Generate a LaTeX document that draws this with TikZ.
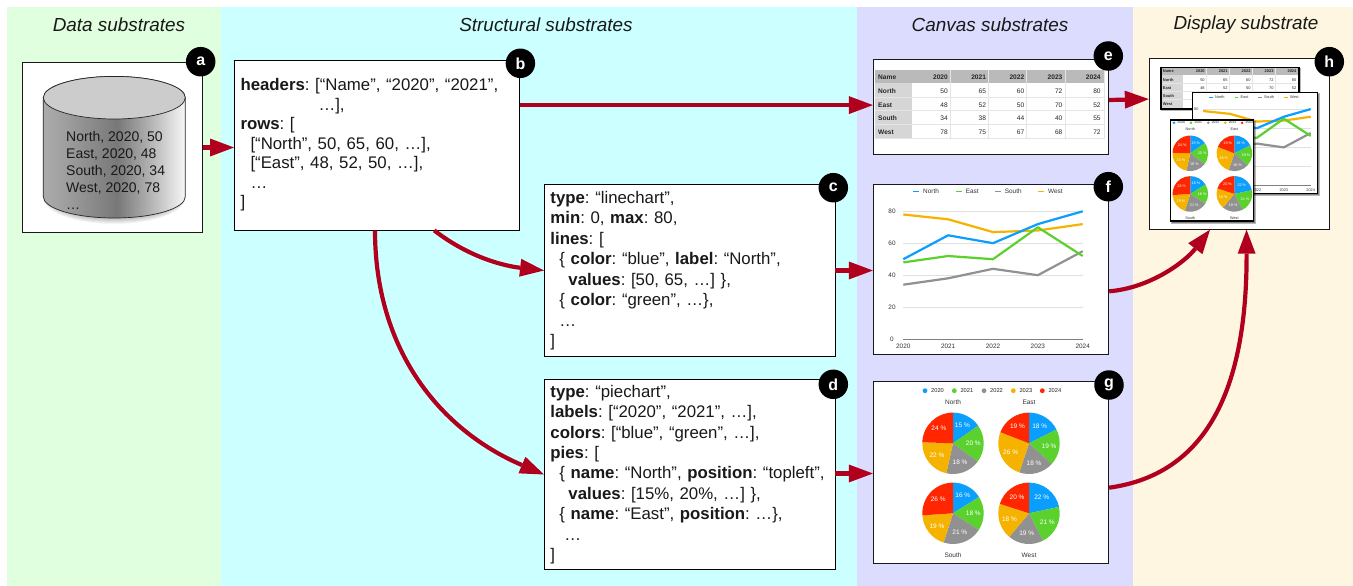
\documentclass[tikz,border=0pt]{standalone}
\usepackage{fontspec}
\setmainfont{Liberation Sans}
\frenchspacing
\usetikzlibrary{arrows.meta,calc,shadings}
\definecolor{bgdata}{HTML}{E0FFDF}
\definecolor{bgstruct}{HTML}{CCFFFF}
\definecolor{bgcanvas}{HTML}{DCDCFF}
\definecolor{bgdisp}{HTML}{FEF6E0}
\definecolor{arrowred}{HTML}{B0001E}
\definecolor{cblue}{HTML}{0A9EFF}
\definecolor{cgreen}{HTML}{5BD12D}
\definecolor{cgrey}{HTML}{919191}
\definecolor{corange}{HTML}{F5B300}
\definecolor{cred}{HTML}{FF2600}
\pgfdeclarehorizontalshading{cylshade}{100bp}{color(0bp)=(black!33);color(25bp)=(black!33);color(33bp)=(black!38);color(51bp)=(black!53);color(62.5bp)=(black!30);color(75bp)=(black!3);color(100bp)=(black!3)}
\tikzset{
  x=1pt,y=-1pt,
  bandtitle/.style={font=\fontsize{18.9}{22}\selectfont\itshape,inner sep=0pt,anchor=center,text=black!90},
  codebox/.style={draw=black,line width=.9pt,fill=white,align=left,inner sep=6pt,font=\fontsize{16.8}{#1}\selectfont,text=black!90},
  plainbox/.style={draw=black!90,line width=.9pt,fill=white},
  badge/.style={circle,fill=black,text=white,minimum size=29.5pt,inner sep=0pt,font=\fontsize{16}{16}\selectfont\bfseries},
  flow/.style={draw=arrowred,line width=4.2pt,-{Triangle[length=24pt,width=18pt,fill=arrowred,line width=0pt]}},
  tcell/.style={font=\fontsize{6.6}{8}\selectfont,text=black!85,inner sep=0pt,anchor=base east},
  thead/.style={font=\fontsize{6.6}{8}\selectfont\bfseries,text=black!85,inner sep=0pt,anchor=base east},
  trow/.style={font=\fontsize{6.6}{8}\selectfont\bfseries,text=black!85,inner sep=0pt,anchor=base west},
  chartlab/.style={font=\fontsize{6.4}{8}\selectfont,text=black!80,inner sep=0pt},
  pielab/.style={font=\fontsize{6.5}{8}\selectfont,text=white,inner sep=0pt},
  pietitle/.style={font=\fontsize{6.5}{8}\selectfont,text=black!80,inner sep=0pt},
  legendtxt/.style={font=\fontsize{5.7}{6}\selectfont,text=black!85,inner sep=0pt,anchor=west},
  serie/.style={line width=2.2pt,line join=round,draw=#1},
  grid line/.style={draw=black!12,line width=.7pt},
  thumb/.style={fill=white,draw=black,line width=1.1pt},
  thumbshadow/.style={fill=black,opacity=.28},
}
% table, in the coordinates of box e
\newcommand{\drawtable}{%
  \fill[black!27] (875,70) rectangle (1105,83.3);
  \fill[black!16] (875,83.3) rectangle (912.3,138.7);
  \foreach \gy in {97.3,110.7,124,138.7}{\draw[black!10,line width=.6pt] (875,\gy) -- (1105,\gy);}
  \foreach \gx in {950.7,988.7,1026.7,1065.3,1104}{\draw[black!10,line width=.6pt] (\gx,70) -- (\gx,138.7);}
  \node[trow] (th0) at (878,79.3) {Name};
  \foreach \lab [count=\i from 0] in {2020,2021,2022,2023,2024}{
    \pgfmathsetmacro\cx{948+38.2*\i}
    \node[thead] (th\i x) at (\cx,79.3) {\lab};}
  \foreach \nm/\yy/\va/\vb/\vc/\vd/\ve in {North/93.2/50/65/60/72/80,East/107/48/52/50/70/52,South/120.5/34/38/44/40/55,West/134/78/75/67/68/72}{
    \node[trow] (r\nm) at (878,\yy) {\nm};
    \node[tcell] (a\nm) at (948,\yy) {\va};
    \node[tcell] (b\nm) at (986.2,\yy) {\vb};
    \node[tcell] (c\nm) at (1024.4,\yy) {\vc};
    \node[tcell] (d\nm) at (1062.6,\yy) {\vd};
    \node[tcell] (e\nm) at (1100.8,\yy) {\ve};}
}
% line chart, in the coordinates of box f
\newcommand{\drawlinechart}{%
  \foreach \gy/\lab in {211.3/80,243.2/60,275.2/40,307.1/20}{
    \draw[grid line] (903.3,\gy) -- (1082.7,\gy);
    \node[chartlab] (yt\lab) at (892,\gy) {\lab};}
  \draw[black!50,line width=1pt] (903.3,339) -- (1082.7,339);
  \node[chartlab] (yt0) at (892,339) {0};
  \foreach \lab/\gx in {2020/903.3,2021/948.15,2022/993,2023/1037.85,2024/1082.7}{
    \node[chartlab] (xt\lab) at (\gx,346.3) {\lab};}
  \draw[serie=cgrey] (903.3,284.7) -- (948.15,278.3) -- (993,268.8) -- (1037.85,275.2) -- (1082.7,251.2);
  \draw[serie=corange] (903.3,214.5) -- (948.15,219.3) -- (993,232.1) -- (1037.85,230.5) -- (1082.7,224.1);
  \draw[serie=cblue] (903.3,259.2) -- (948.15,235.3) -- (993,243.2) -- (1037.85,224.1) -- (1082.7,211.3);
  \draw[serie=cgreen] (903.3,262.4) -- (948.15,256) -- (993,259.2) -- (1037.85,227.3) -- (1082.7,256);
  \foreach \lx/\tx/\c/\lab in {913.3/923/cblue/North,955.7/965.7/cgreen/East,995/1004.7/cgrey/South,1038.3/1048/corange/West}{
    \draw[\c,line width=1.2pt] (\lx,191.7) -- (\lx+6,191.7);
    \node[chartlab,anchor=west] (lg\lab) at (\tx,191.7) {\lab};}
}
% pie charts, in the coordinates of box g
\newcommand{\onepie}[4]{%
  \foreach \v/\l/\c [remember=\nx as \st (initially 90), evaluate=\v as \nx using \st-\v/#3*360] in {#4}{
    \fill[\c] (#1,#2) -- ++(\st:30.7pt) arc[start angle=\st,end angle=\nx,radius=30.7pt] -- cycle;
    \pgfmathsetmacro\mdd{(\st+\nx)/2}
    \path (#1,#2) ++(\mdd:20.3pt) node[pielab] (pl\l) {\l{} \%};
  }%
}
\newcommand{\drawpies}{%
  \foreach \dx/\tx/\c/\lab in {925/931/cblue/2020,954.3/960.3/cgreen/2021,984/990/cgrey/2022,1013.3/1019.3/corange/2023,1042.3/1048.3/cred/2024}{
    \fill[\c] (\dx,390.7) circle[radius=2.4pt];
    \node[legendtxt] (pg\lab) at (\tx,390.7) {\lab};}
  \node[pietitle] (ptn) at (953,402.3) {North};
  \node[pietitle] (pte) at (1029,402.3) {East};
  \node[pietitle] (pts) at (953,555.2) {South};
  \node[pietitle] (ptw) at (1029,555.2) {West};
  \onepie{953}{443.3}{327}{50/15/cblue,65/20/cgreen,60/18/cgrey,72/22/corange,80/24/cred}
  \onepie{1029}{443.3}{272}{48/18/cblue,52/19/cgreen,50/18/cgrey,70/26/corange,52/19/cred}
  \onepie{953}{513.3}{211}{34/16/cblue,38/18/cgreen,44/21/cgrey,40/19/corange,55/26/cred}
  \onepie{1029}{513.3}{360}{78/22/cblue,75/21/cgreen,67/19/cgrey,68/18/corange,72/20/cred}
}
\begin{document}
\begin{tikzpicture}
\useasboundingbox (0,0) rectangle (1353,586);
\fill[white] (0,0) rectangle (1353,586);
\fill[bgdata] (7,7) rectangle (221,586);
\fill[bgstruct] (221,7) rectangle (857,586);
\fill[bgcanvas] (857,7) rectangle (1133,586);
\fill[bgdisp] (1133,7) rectangle (1353,586);
\node[bandtitle] (t1) at (119,24.5) {Data substrates};
\node[bandtitle] (t2) at (546,24.5) {Structural substrates};
\node[bandtitle] (t3) at (990,24.5) {Canvas substrates};
\node[bandtitle] (t4) at (1246,24.5) {Display substrate};

% a
\node[plainbox,minimum width=180pt,minimum height=169.6pt,line width=.8pt] (a) at (112.5,147.5) {};
\foreach \k in {6,5,4,3,2,1}{
  \fill[black,opacity=.045] (114.3,198) ellipse[x radius=65pt+\k pt,y radius=20pt+\k pt];}
\shade[shading=cylshade,draw=black!85,line width=.7pt]
  (43.3,97.7) -- (43.3,196.7) arc[start angle=180,end angle=360,x radius=71pt,y radius=21.3pt]
  -- (185.3,97.7) arc[start angle=0,end angle=180,x radius=71pt,y radius=21.3pt] -- cycle;
\fill[black!20,draw=black!85,line width=.7pt] (114.3,97.7) ellipse[x radius=71pt,y radius=21.3pt];
\node[align=left,inner sep=0pt,anchor=north west,font=\fontsize{14}{17}\selectfont,text=black!90] (atext) at (66,131) {North, 2020, 50\\East, 2020, 48\\South, 2020, 34\\West, 2020, 78\\…};

% code boxes
\node[codebox=19.5,minimum width=285pt,minimum height=169.7pt,text width=273pt] (b) at (377,145.1) {%
\textbf{headers}: [“Name”, “2020”, “2021”,\\
\hspace*{78pt}…],\\
\textbf{rows}: [\\
\hspace*{10pt}[“North”, 50, 65, 60, …],\\
\hspace*{10pt}[“East”, 48, 52, 50, …],\\
\hspace*{10pt}…\\
]};
\node[codebox=20.5,minimum width=290.5pt,minimum height=169.6pt,text width=278.5pt] (c) at (689.7,270.5) {%
\textbf{type}: “linechart”,\\
\textbf{min}: 0, \textbf{max}: 80,\\
\textbf{lines}: [\\
\hspace*{9pt}\{ \textbf{color}: “blue”, \textbf{label}: “North”,\\
\hspace*{18pt}\textbf{values}: [50, 65, …] \},\\
\hspace*{9pt}\{ \textbf{color}: “green”, …\},\\
\hspace*{9pt}…\\
]};
\node[codebox=20.4,minimum width=290.5pt,minimum height=181pt,text width=278.5pt] (d) at (689.7,474.5) {%
\textbf{type}: “piechart”,\\
\textbf{labels}: [“2020”, “2021”, …],\\
\textbf{colors}: [“blue”, “green”, …],\\
\textbf{pies}: [\\
\hspace*{9pt}\{ \textbf{name}: “North”, \textbf{position}: “topleft”,\\
\hspace*{18pt}\textbf{values}: [15\%, 20\%, …] \},\\
\hspace*{9pt}\{ \textbf{name}: “East”, \textbf{position}: …\},\\
\hspace*{14pt}…\\
]};

% canvas boxes
\node[plainbox,minimum width=235.4pt,minimum height=95pt] (e) at (991,106.5) {};
\drawtable
\node[plainbox,minimum width=235.4pt,minimum height=170pt] (f) at (991,269.3) {};
\drawlinechart
\node[plainbox,minimum width=235.4pt,minimum height=182pt] (g) at (991,472.7) {};
\drawpies

% display box
\node[plainbox,minimum width=180pt,minimum height=170.3pt] (h) at (1239.3,144.1) {};
% table thumbnail
\fill[thumbshadow] (1161,68.3) rectangle (1301,111);
\fill[thumbshadow] (1162,69.3) rectangle (1300,110);
\node[thumb,minimum width=138pt,minimum height=41.7pt,inner sep=0pt] (h1) at (1230,88.2) {};
\begin{scope}
  \clip (1161,67.3) rectangle (1299,109);
  \begin{scope}[shift={(636,25.34)},scale=.6,every node/.append style={transform shape}]
    \drawtable
  \end{scope}
\end{scope}
\draw[black,line width=1.1pt] (1161,67.3) rectangle (1299,109);
% line chart thumbnail
\fill[thumbshadow] (1192.3,93.3) rectangle (1320,196);
\fill[thumbshadow] (1193.3,94.3) rectangle (1319,195);
\node[thumb,minimum width=125.4pt,minimum height=101.4pt,inner sep=0pt] (h2) at (1255,143) {};
\begin{scope}
  \clip (1192.3,92.3) rectangle (1317.7,193.7);
  \begin{scope}[shift={(661.08,-17.7)},scale=.6,every node/.append style={transform shape}]
    \drawlinechart
  \end{scope}
\end{scope}
\draw[black,line width=1.1pt] (1192.3,92.3) rectangle (1317.7,193.7);
% pie thumbnail
\fill[thumbshadow] (1170.7,121) rectangle (1256,223.5);
\fill[thumbshadow] (1171.7,122) rectangle (1255,222.5);
\node[thumb,minimum width=83pt,minimum height=101pt,inner sep=0pt] (h3) at (1212.2,170.5) {};
\begin{scope}
  \clip (1170.7,120) rectangle (1253.7,221);
  \begin{scope}[shift={(637.56,-103.8)},scale=.58,every node/.append style={transform shape}]
    \drawpies
  \end{scope}
\end{scope}
\draw[black,line width=1.1pt] (1170.7,120) rectangle (1253.7,221);

% connectors
\draw[flow] (a.east) -- (b.west |- a.east);
\coordinate (bout) at ([yshift=40pt]b.east);
\draw[flow] (bout) -- (e.west |- bout);
\draw[flow] ($(b.south west)!.70!(b.south east)$) .. controls (470,258) and (505,266) .. (c.west);
\draw[flow] ($(b.south west)!.493!(b.south east)$) .. controls (375,350) and (440,430) .. (d.west);
\draw[flow] (c.east) -- (f.west |- c.east);
\draw[flow] ([yshift=1pt]d.east) -- ([yshift=-.8pt]g.west);
\draw[flow] ([yshift=6.5pt]e.east) -- ([yshift=45pt]h.west);
\draw[flow] ([yshift=-22pt]f.east) .. controls (1150,288) and (1185,262) .. ($(h.south west)!.338!(h.south east)$);
\draw[flow] ([yshift=-15pt]g.east) .. controls (1200,475) and (1247,400) .. ($(h.south west)!.54!(h.south east)$);

% badges
\node[badge] (ba) at (200.7,61.7) {a};
\node[badge] (bb) at (520.4,63.3) {b};
\node[badge] (bc) at (833.3,187.7) {c};
\node[badge] (bd) at (833.3,384.3) {d};
\node[badge] (be) at (1108.3,56) {e};
\node[badge] (bf) at (1108.3,186.7) {f};
\node[badge] (bg) at (1109,385) {g};
\node[badge] (bh) at (1329.3,61.7) {h};
\end{tikzpicture}
\end{document}
